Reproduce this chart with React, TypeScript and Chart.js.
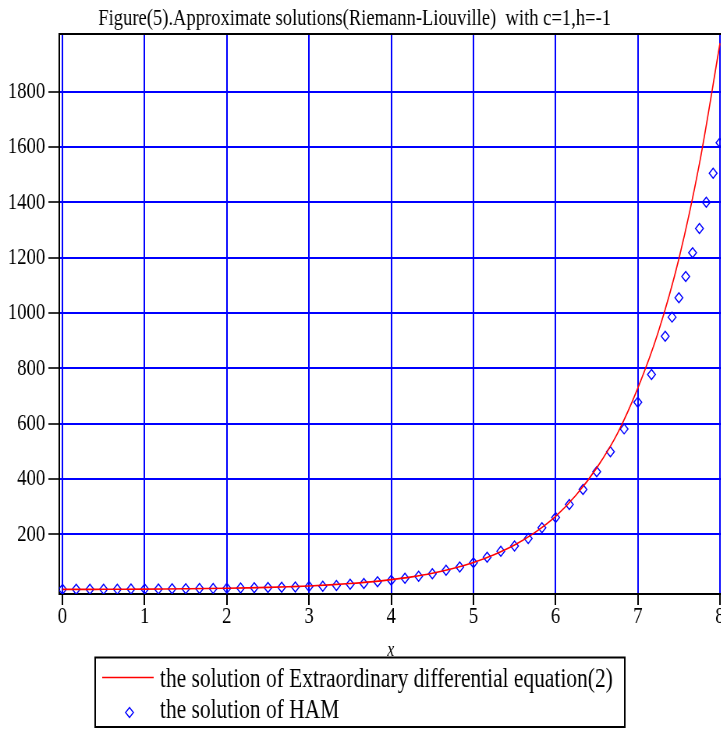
import React, { useEffect, useRef } from "react";
import { Chart, registerables } from "chart.js";

Chart.register(...registerables);

// ---------- data ----------
const titleText = "Figure(5).Approximate solutions(Riemann-Liouville)  with c=1,h=-1";
const xAxisTitle = "x";
const legendLabels = [
  "the solution of Extraordinary differential equation(2)",
  "the solution of HAM",
];

const xTickValues = [0, 1, 2, 3, 4, 5, 6, 7, 8];
const yTickValues = [200, 400, 600, 800, 1000, 1200, 1400, 1600, 1800];

// exact solution (red curve)
const odeX = [
  0, 0.25, 0.5, 0.75, 1, 1.25, 1.5, 1.75, 2, 2.25, 2.5, 2.75, 3, 3.25, 3.5, 3.75,
  4, 4.25, 4.5, 4.75, 5, 5.25, 5.5, 5.75, 6, 6.25, 6.5, 6.75, 7, 7.25, 7.5, 7.75, 8,
];
const odeY = [
  0.7, 0.8, 1.1, 1.4, 1.8, 2.3, 3.0, 3.8, 4.9, 6.3, 8.0, 10.3, 13, 17, 22, 28,
  36, 46, 59, 76, 98, 126, 161, 207, 265, 342, 440, 563, 728, 932, 1196, 1540, 1975,
];

// HAM solution (blue diamonds)
const hamX = [
  0, 0.1667, 0.3333, 0.5, 0.6667, 0.8333, 1, 1.1667, 1.3333, 1.5, 1.6667, 1.8333,
  2, 2.1667, 2.3333, 2.5, 2.6667, 2.8333, 3, 3.1667, 3.3333, 3.5, 3.6667, 3.8333,
  4, 4.1667, 4.3333, 4.5, 4.6667, 4.8333, 5, 5.1667, 5.3333, 5.5, 5.6667, 5.8333,
  6, 6.1667, 6.3333, 6.5, 6.6667, 6.8333, 7, 7.1667, 7.3333, 7.4167, 7.5, 7.5833,
  7.6667, 7.75, 7.8333, 7.9167, 8,
];
const hamY = [
  1, 1, 1.2, 1.4, 1.6, 1.9, 2.2, 2.5, 2.9, 3.3, 3.8, 4.4,
  5, 5.8, 6.7, 7.7, 8.8, 9.8, 11, 12.5, 15, 19, 22, 28,
  34, 41, 48, 57, 70, 82, 97, 117, 139, 158, 185, 224,
  261, 308, 362, 426, 498, 581, 677, 778, 916, 985, 1055, 1132,
  1218, 1305, 1400, 1505, 1615,
];

// ---------- look ----------
const SX = 0.78; // horizontal squeeze of the original figure
const CW = 980;
const CH = 729;
const FONT = "'Liberation Serif', 'Times New Roman', serif";
const BLUE = "#0000ff";
const RED = "#ff0000";

const decorPlugin = {
  id: "decor",
  afterDraw(chart: any) {
    const ctx = chart.ctx as CanvasRenderingContext2D;
    const a = chart.chartArea;
    ctx.save();
    // top / right frame
    ctx.strokeStyle = "#000";
    ctx.lineWidth = 2;
    ctx.beginPath();
    ctx.moveTo(a.left, a.top);
    ctx.lineTo(a.right, a.top);
    ctx.lineTo(a.right, a.bottom);
    ctx.stroke();

    // title
    ctx.fillStyle = "#000";
    ctx.font = `23.8px ${FONT}`;
    ctx.textAlign = "left";
    ctx.textBaseline = "alphabetic";
    ctx.fillText(titleText, 126, 25);

    // x axis title
    ctx.font = `italic 20px ${FONT}`;
    ctx.textAlign = "center";
    ctx.fillText(xAxisTitle, (a.left + a.right) / 2, 656);

    // legend box
    const L = 122, R = 801, T = 657.5, B = 727;
    ctx.lineWidth = 2;
    ctx.strokeStyle = "#000";
    ctx.strokeRect(L, T, R - L, B - T);

    // red sample
    ctx.strokeStyle = RED;
    ctx.lineWidth = 1.6;
    ctx.beginPath();
    ctx.moveTo(131, 677.5);
    ctx.lineTo(197, 677.5);
    ctx.stroke();

    // diamond sample
    const cx = 166, cy = 712.5, r = 5;
    ctx.strokeStyle = BLUE;
    ctx.lineWidth = 1.4;
    ctx.beginPath();
    ctx.moveTo(cx, cy - r);
    ctx.lineTo(cx + r, cy);
    ctx.lineTo(cx, cy + r);
    ctx.lineTo(cx - r, cy);
    ctx.closePath();
    ctx.stroke();

    // legend text
    ctx.fillStyle = "#000";
    ctx.font = `27.5px ${FONT}`;
    ctx.textAlign = "left";
    ctx.textBaseline = "alphabetic";
    ctx.fillText(legendLabels[0], 205, 687);
    ctx.fillText(legendLabels[1], 205, 718);
    ctx.restore();
  },
};

export default function App() {
  const ref = useRef<HTMLCanvasElement | null>(null);

  useEffect(() => {
    if (!ref.current) return;
    const chart = new Chart(ref.current, {
      type: "scatter",
      data: {
        datasets: [
          {
            type: "line",
            label: legendLabels[0],
            data: odeX.map((x, i) => ({ x, y: odeY[i] })),
            borderColor: RED,
            backgroundColor: RED,
            borderWidth: 1.6,
            pointRadius: 0,
            fill: false,
            showLine: true,
            cubicInterpolationMode: "monotone",
            order: 0,
          } as any,
          {
            type: "scatter",
            label: legendLabels[1],
            data: hamX.map((x, i) => ({ x, y: hamY[i] })),
            pointStyle: "rectRot",
            pointRadius: 5,
            pointBorderWidth: 1.4,
            borderColor: BLUE,
            backgroundColor: "rgba(0,0,0,0)",
            order: 1,
          } as any,
        ],
      },
      options: {
        responsive: false,
        maintainAspectRatio: false,
        animation: false,
        layout: { padding: { left: 0, top: 34, right: CW - 926, bottom: 0 } },
        plugins: {
          legend: { display: false },
          title: { display: false },
          tooltip: { enabled: false },
        },
        scales: {
          x: {
            type: "linear",
            min: -0.039,
            max: 8.028,
            afterBuildTicks: (s: any) => {
              s.ticks = xTickValues.map((v) => ({ value: v }));
            },
            afterFit: (s: any) => {
              s.height = 135;
              s.paddingLeft = 0;
              s.paddingRight = 0;
            },
            grid: {
              color: BLUE,
              lineWidth: 2,
              tickColor: "#000",
              tickLength: 11,
              tickWidth: 2,
            },
            border: { color: "#000", width: 2 },
            ticks: {
              color: "#000",
              font: { family: FONT, size: 24, lineHeight: 1 },
              padding: 0,
              maxRotation: 0,
              autoSkip: false,
              callback: (v: any) => String(v),
            },
          },
          y: {
            type: "linear",
            min: -15.9,
            max: 2008.5,
            afterBuildTicks: (s: any) => {
              s.ticks = yTickValues.map((v) => ({ value: v }));
            },
            afterFit: (s: any) => {
              s.width = 76;
              s.paddingTop = 0;
              s.paddingBottom = 0;
            },
            grid: {
              color: BLUE,
              lineWidth: 2,
              tickColor: "#000",
              tickLength: 14,
              tickWidth: 1.6,
            },
            border: { color: "#000", width: 2 },
            ticks: {
              color: "#000",
              font: { family: FONT, size: 24, lineHeight: 1 },
              padding: 4,
              autoSkip: false,
              callback: (v: any) => String(v),
            },
          },
        },
      },
      plugins: [decorPlugin],
    });
    return () => chart.destroy();
  }, []);

  return (
    <div
      style={{
        position: "fixed",
        left: 0,
        top: 0,
        width: 721,
        height: 729,
        overflow: "hidden",
        background: "#fff",
      }}
    >
      <canvas
        ref={ref}
        width={CW}
        height={CH}
        style={{
          width: CW,
          height: CH,
          display: "block",
          transform: `scaleX(${SX})`,
          transformOrigin: "0 0",
        }}
      />
    </div>
  );
}
